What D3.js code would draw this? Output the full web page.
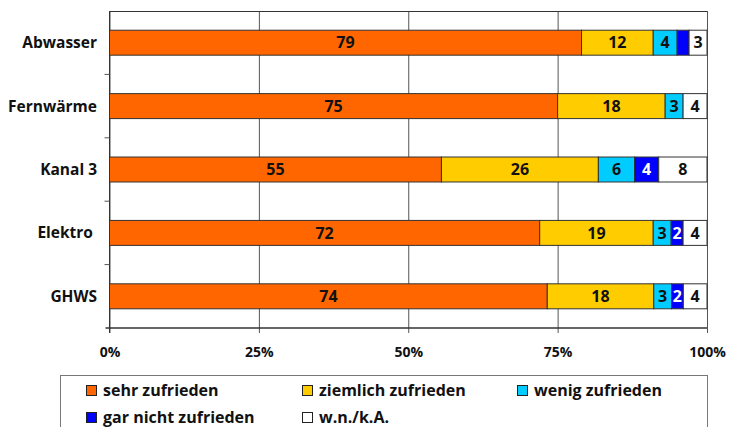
<!DOCTYPE html>
<html>
<head>
<meta charset="utf-8">
<script src="https://cdn.jsdelivr.net/npm/d3@7"></script>
<style>
  html, body { margin: 0; padding: 0; background: #fff; }
  svg { display: block; font-family: "Open Sans", "Noto Sans", sans-serif; font-weight: bold; }
  text { white-space: pre; }
</style>
</head>
<body>
<svg id="chart" width="729" height="427"></svg>
<script>
// Satisfaction per department (percent, rounded; each bar is scaled to 100 %)
const categories = ["Abwasser", "Fernwärme", "Kanal 3", "Elektro ", "GHWS"];
const seriesNames = ["sehr zufrieden", "ziemlich zufrieden", "wenig zufrieden", "gar nicht zufrieden", "w.n./k.A."];
const sehrZufrieden     = [79, 75, 55, 72, 74];
const ziemlichZufrieden = [12, 18, 26, 19, 18];
const wenigZufrieden    = [4, 3, 6, 3, 3];
const garNichtZufrieden = [2, 0, 4, 2, 2];
const wnKA              = [3, 4, 8, 4, 4];
const xTicks = [0, 25, 50, 75, 100];
// segments printed without a value label: [category, series]
const unlabeled = [["Abwasser", "gar nicht zufrieden"]];

const colors = ["#FF6600", "#FFCC00", "#00CCFF", "#0000FF", "#FFFFFF"];
const labelColors = ["#111", "#111", "#111", "#fff", "#111"];
const seriesValues = [sehrZufrieden, ziemlichZufrieden, wenigZufrieden, garNichtZufrieden, wnKA];

const rows = categories.map((c, i) => {
  const row = { cat: c };
  seriesNames.forEach((s, j) => row[s] = seriesValues[j][i]);
  return row;
});

const svg = d3.select("#chart");
const plot = { left: 109.5, right: 707, top: 11, bottom: 328 };

const x = d3.scaleLinear().domain([0, 1]).range([plot.left, plot.right]);
const y = d3.scaleBand().domain(categories).range([plot.top, plot.bottom])
  .paddingInner(0.606).paddingOuter(0.303);

const stack = d3.stack().keys(seriesNames).offset(d3.stackOffsetExpand);
const layers = stack(rows);

// vertical gridlines with ticks below the axis
const xAxis = d3.axisBottom(x)
  .tickValues(xTicks.map(v => v / 100))
  .tickFormat(v => Math.round(v * 100) + "%")
  .tickSize(-(plot.bottom - plot.top))
  .tickSizeOuter(0)
  .tickPadding(19);
const gx = svg.append("g").attr("transform", `translate(0,${plot.bottom})`).call(xAxis);
gx.select(".domain").remove();
gx.selectAll(".tick line").attr("stroke", "#555").attr("stroke-width", 1)
  .attr("y2", 5).attr("y1", -(plot.bottom - plot.top));
gx.selectAll(".tick text").attr("font-size", 14).attr("font-weight", "bold")
  .attr("fill", "#111").attr("font-family", "Open Sans, sans-serif");

// frame top and bottom
svg.append("line").attr("x1", plot.left).attr("x2", plot.right)
  .attr("y1", plot.top + 0.5).attr("y2", plot.top + 0.5).attr("stroke", "#333");
svg.append("line").attr("x1", plot.left - 4).attr("x2", plot.right)
  .attr("y1", plot.bottom).attr("y2", plot.bottom).attr("stroke", "#333").attr("stroke-width", 1.5);

// category axis: line, ticks between bands, labels
const step = y.step();
const gy = svg.append("g");
gy.append("line").attr("x1", plot.left).attr("x2", plot.left)
  .attr("y1", plot.top).attr("y2", plot.bottom + 5).attr("stroke", "#333");
gy.selectAll("line.tk").data(categories.slice(0, -1)).join("line")
  .attr("class", "tk")
  .attr("x1", plot.left - 5).attr("x2", plot.left)
  .attr("y1", d => y(d) + y.bandwidth() / 2 + step / 2)
  .attr("y2", d => y(d) + y.bandwidth() / 2 + step / 2)
  .attr("stroke", "#555");
gy.selectAll("text").data(categories).join("text")
  .attr("x", 97).attr("y", d => y(d) + y.bandwidth() / 2)
  .attr("dy", "0.36em").attr("text-anchor", "end")
  .attr("font-size", 15.5).attr("fill", "#111")
  .text(d => d);

// stacked bars
const gl = svg.append("g").selectAll("g").data(layers).join("g")
  .attr("fill", (d, i) => colors[i]);
gl.selectAll("rect").data(d => d.map(p => ({ p, key: d.key, idx: d.index })))
  .join("rect")
  .filter(d => d.p[1] - d.p[0] > 0)
  .attr("x", d => x(d.p[0])).attr("width", d => x(d.p[1]) - x(d.p[0]))
  .attr("y", d => y(d.p.data.cat)).attr("height", y.bandwidth())
  .attr("stroke", "#333").attr("stroke-width", 1);

// value labels
const isUnlabeled = (cat, key) => unlabeled.some(u => u[0] === cat && u[1] === key);
const gt = svg.append("g");
layers.forEach((layer, i) => {
  layer.forEach(p => {
    const v = p.data[layer.key];
    if (!v || isUnlabeled(p.data.cat, layer.key)) return;
    gt.append("text")
      .attr("x", (x(p[0]) + x(p[1])) / 2)
      .attr("y", y(p.data.cat) + y.bandwidth() / 2)
      .attr("dy", "0.36em").attr("text-anchor", "middle")
      .attr("font-size", 16).attr("fill", labelColors[i])
      .text(v);
  });
});

// legend
const lg = svg.append("g");
lg.append("rect").attr("x", 60.5).attr("y", 375.5).attr("width", 647).attr("height", 60)
  .attr("fill", "#fff").attr("stroke", "#777");
const legendPos = [[86, 390.5], [302, 390.5], [517, 390.5], [86, 417.5], [302, 417.5]];
seriesNames.forEach((s, i) => {
  const [lx, ly] = legendPos[i];
  lg.append("rect").attr("x", lx + 0.5).attr("y", ly - 5).attr("width", 10).attr("height", 10)
    .attr("fill", colors[i]).attr("stroke", "#222");
  lg.append("text").attr("x", lx + 17).attr("y", ly).attr("dy", "0.35em")
    .attr("font-size", 16).attr("fill", "#111").text(s);
});
</script>
</body>
</html>
